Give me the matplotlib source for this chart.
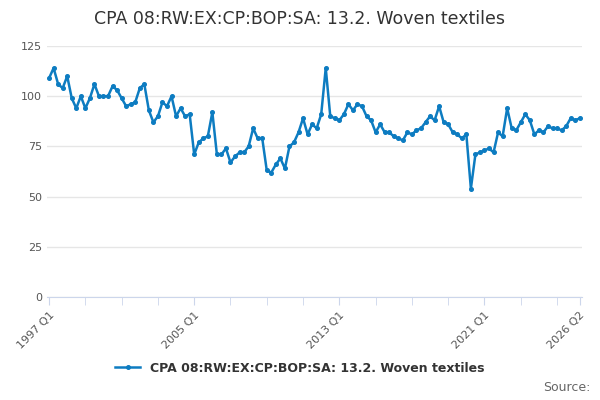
import matplotlib
matplotlib.use("Agg")
import matplotlib.pyplot as plt

# quarterly index, 1997 Q1 .. 2026 Q2
values = [
    109, 114, 106, 104, 110, 99, 94, 100, 94, 99,
    106, 100, 100, 100, 105, 103, 99, 95, 96, 97,
    104, 106, 93, 87, 90, 97, 95, 100, 90, 94,
    90, 91, 71, 77, 79, 80, 92, 71, 71, 74,
    67, 70, 72, 72, 75, 84, 79, 79, 63, 62,
    66, 69, 64, 75, 77, 82, 89, 81, 86, 84,
    91, 114, 90, 89, 88, 91, 96, 93, 96, 95,
    90, 88, 82, 86, 82, 82, 80, 79, 78, 82,
    81, 83, 84, 87, 90, 88, 95, 87, 86, 82,
    81, 79, 81, 54, 71, 72, 73, 74, 72, 82,
    80, 94, 84, 83, 87, 91, 88, 81, 83, 82,
    85, 84, 84, 83, 85, 89, 88, 89,
]
x = list(range(len(values)))
label = "CPA 08:RW:EX:CP:BOP:SA: 13.2. Woven textiles"
blue = "#0d7cc1"

fig = plt.figure(figsize=(6, 4), dpi=100)
ax = fig.add_axes([0.078, 0.2575, 0.892, 0.6275])
ax.plot(x, values, color=blue, lw=1.8, marker="o", ms=2.6, label=label)

ax.set_ylim(0, 125)
ax.set_yticks([0, 25, 50, 75, 100, 125])
ax.set_xlim(-0.5, len(values) - 0.5)
ax.set_xticks([0, 32, 64, 96, len(values) - 1], ["1997 Q1", "2005 Q1", "2013 Q1", "2021 Q1", "2026 Q2"])
ax.set_xticks(list(range(0, len(values), 8)) + [len(values) - 1], minor=True)
ax.tick_params(axis="x", which="both", length=6, color="#ccd6eb", labelsize=8, labelcolor="#555555")
ax.tick_params(axis="y", length=0, labelsize=8, labelcolor="#555555")
for lab in ax.get_xticklabels():
    lab.set_rotation(45)
    lab.set_ha("right")
    lab.set_rotation_mode("anchor")
ax.grid(axis="y", color="#e6e6e6", lw=1)
ax.set_axisbelow(True)
for s in ("top", "right", "left"):
    ax.spines[s].set_visible(False)
ax.spines["bottom"].set_color("#ccd6eb")

fig.suptitle(label, y=0.975, fontsize=12.5, color="#333333")
fig.legend(loc="lower center", bbox_to_anchor=(0.5, 0.035), frameon=False,
           prop={"size": 9, "weight": "bold"}, labelcolor="#333333")
fig.text(0.985, 0.015, "Source:", ha="right", va="bottom", fontsize=9, color="#666666")
fig.savefig("out.png", dpi=100)
